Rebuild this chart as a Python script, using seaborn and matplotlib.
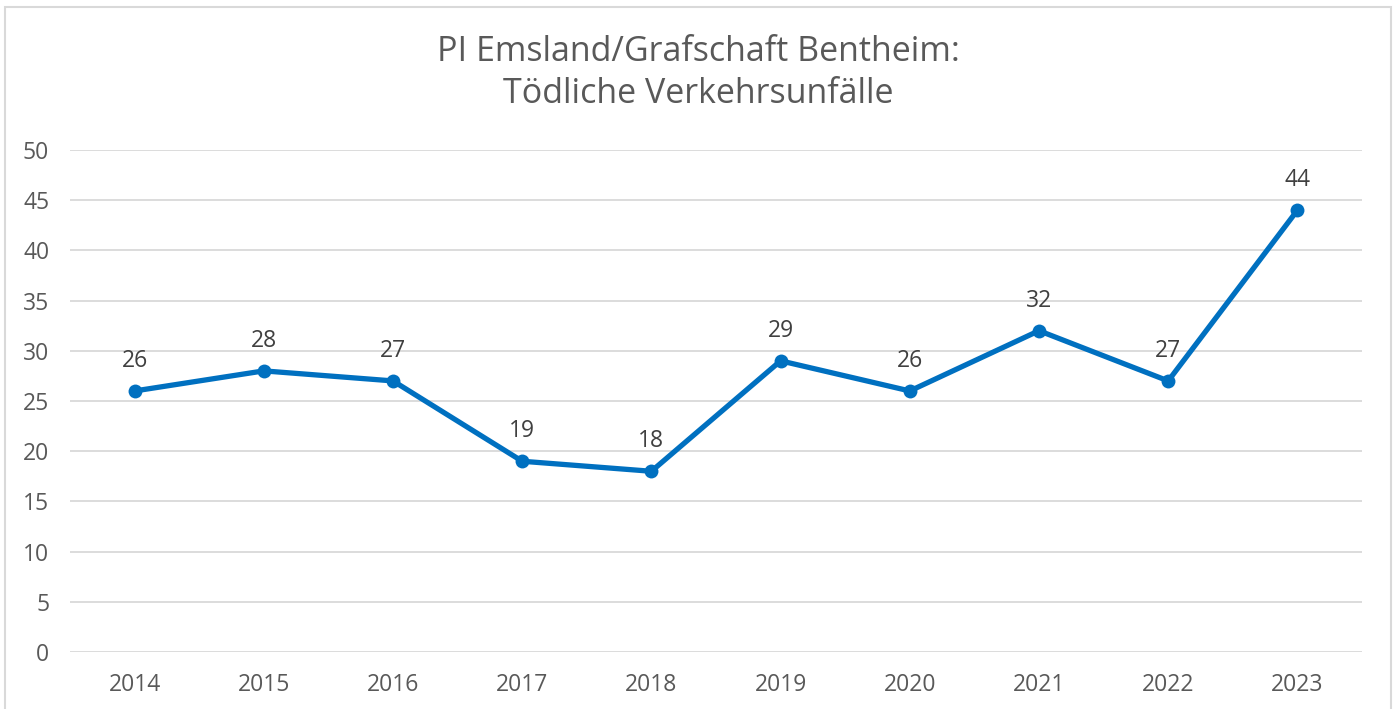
import matplotlib
matplotlib.use("Agg")
import matplotlib.pyplot as plt
import seaborn as sns
import pandas as pd
from matplotlib.patches import Rectangle

years = ["2014", "2015", "2016", "2017", "2018", "2019", "2020", "2021", "2022", "2023"]
values = [26, 28, 27, 19, 18, 29, 26, 32, 27, 44]
title = "PI Emsland/Grafschaft Bentheim:\nTödliche Verkehrsunfälle"

sns.set_theme(style="white")
plt.rcParams["font.family"] = ["Open Sans", "DejaVu Sans"]

df = pd.DataFrame({"Jahr": years, "Anzahl": values})

fig = plt.figure(figsize=(13.97, 7.09), dpi=100)
ax = fig.add_axes([70/1397, 1-652/709, (1362-70)/1397, (652-150)/709])

sns.lineplot(data=df, x="Jahr", y="Anzahl", ax=ax, color="#0070C0", linewidth=3.8,
             marker="o", markersize=10, markeredgewidth=0, sort=False)

for i, v in enumerate(values):
    ax.annotate(str(v), (i, v), xytext=(0, 13), textcoords="offset points",
                ha="center", va="bottom", fontsize=16.5, color="#404040")

ax.set_xlim(-0.5, len(years) - 0.5)
ax.set_ylim(0, 50)
ax.set_yticks(range(0, 51, 5))
ax.yaxis.grid(True, color="#D9D9D9", linewidth=1.3)
ax.xaxis.grid(False)
for s in ax.spines.values():
    s.set_visible(False)
ax.set_xlabel("")
ax.set_ylabel("")
ax.tick_params(axis="both", length=0, labelsize=16.5, labelcolor="#595959")
ax.tick_params(axis="y", pad=15)
ax.tick_params(axis="x", pad=15)

fig.text(0.5, 1-73/709, title, ha="center", va="center", fontsize=24.5, color="#595959",
         linespacing=1.3)

fig.patches.append(Rectangle((5/1397, -0.05), (1391-5)/1397, 1.05 - 7/709,
                             transform=fig.transFigure, fill=False,
                             edgecolor="#D9D9D9", linewidth=1.5))

fig.savefig("out.png", dpi=100)
